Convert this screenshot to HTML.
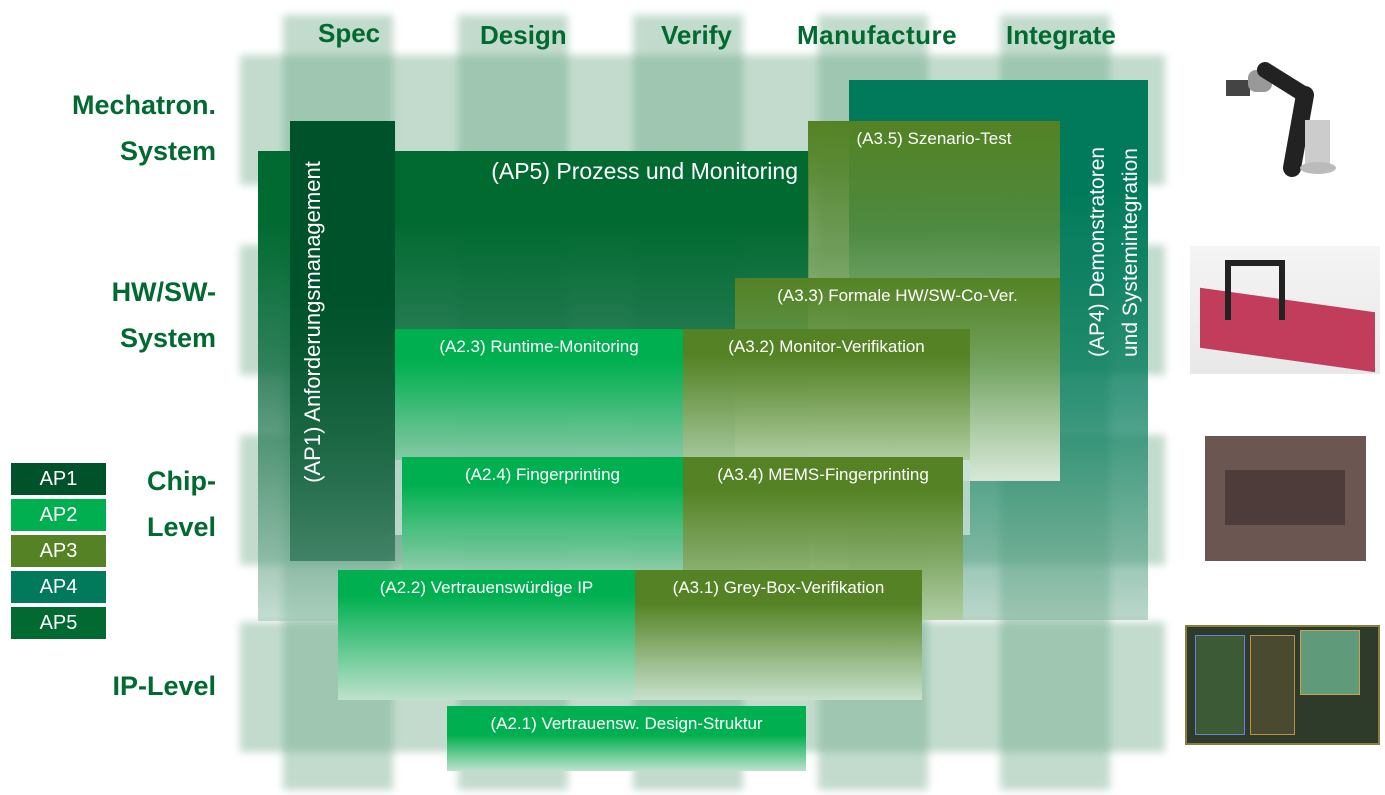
<!DOCTYPE html>
<html><head><meta charset="utf-8"><style>
*{margin:0;padding:0;box-sizing:border-box}
body{width:1385px;height:795px;background:#fff;position:relative;overflow:hidden;font-family:"Liberation Sans",sans-serif}
.a{position:absolute}
.grid{position:absolute;left:0;top:0;width:1385px;height:795px;filter:blur(4px)}
.c{position:absolute;background:rgba(110,170,135,0.42)}
.h{position:absolute;font-weight:bold;color:#006a30;font-size:26px}
.r{position:absolute;font-weight:bold;color:#006a30;font-size:27px;left:20px;width:196px;text-align:right;line-height:46px}
.b{position:absolute;color:#fff;font-size:17px;text-align:center;padding-top:8px}
.g2{background:linear-gradient(#00b050 0%,#00b050 25%,rgba(140,205,170,0.9) 100%)}
.g3{background:linear-gradient(#548224 0%,#548224 20%,rgba(175,205,160,0.9) 100%)}
.lg{position:absolute;left:11px;width:95px;height:32px;color:#fff;font-size:20px;text-align:center;line-height:32px}
</style></head><body>
<div class="grid">
<div class="c" style="left:283px;top:15px;width:110px;height:775px"></div>
<div class="c" style="left:458px;top:15px;width:110px;height:775px"></div>
<div class="c" style="left:633px;top:15px;width:110px;height:775px"></div>
<div class="c" style="left:818px;top:15px;width:110px;height:775px"></div>
<div class="c" style="left:1000px;top:15px;width:110px;height:775px"></div>
<div class="c" style="left:240px;top:55px;width:925px;height:130px"></div>
<div class="c" style="left:240px;top:245px;width:925px;height:130px"></div>
<div class="c" style="left:240px;top:435px;width:925px;height:130px"></div>
<div class="c" style="left:240px;top:622px;width:925px;height:130px"></div>
</div>
<div class="h" style="left:318px;top:18px">Spec</div>
<div class="h" style="left:480px;top:20px">Design</div>
<div class="h" style="left:661px;top:20px">Verify</div>
<div class="h" style="left:797px;top:20px;letter-spacing:0.5px">Manufacture</div>
<div class="h" style="left:1006px;top:20px">Integrate</div>
<div class="r" style="top:82px">Mechatron.<br>System</div>
<div class="r" style="top:269px">HW/SW-<br>System</div>
<div class="r" style="top:458px">Chip-<br>Level</div>
<div class="r" style="top:663px">IP-Level</div>

<div class="a" style="left:849px;top:80px;width:299px;height:540px;background:linear-gradient(#007a5a 0%,#007a5a 20%,rgba(0,122,90,0.75) 60%,rgba(120,175,150,0.5) 100%)"></div>
<div class="a" style="left:258px;top:151px;width:551px;height:470px;background:linear-gradient(#006a30 0%,#006a30 15%,rgba(20,110,70,0.8) 50%,rgba(150,195,175,0.55) 100%)"></div>
<div class="a" style="left:290px;top:121px;width:105px;height:440px;background:linear-gradient(#00522a 0%,#00522a 40%,rgba(40,110,80,0.7) 100%)"></div>
<div class="a" style="left:93px;top:307px;width:440px;height:30px;transform:rotate(-90deg);color:#fff;font-size:22px;text-align:center;white-space:nowrap;line-height:30px">(AP1) Anforderungsmanagement</div>
<div class="a" style="left:400px;top:158px;width:398px;color:#fff;font-size:23px;text-align:right">(AP5) Prozess und Monitoring</div>
<div class="a" style="left:973px;top:185px;width:280px;height:64px;transform:rotate(-90deg);color:#fff;font-size:21px;text-align:left;line-height:33px;white-space:nowrap">(AP4) Demonstratoren<br>und Systemintegration</div>

<div class="b g3" style="left:808px;top:121px;width:252px;height:360px;background:linear-gradient(#548224 0%,rgba(90,140,60,0.85) 30%,rgba(215,232,215,0.95) 100%)">(A3.5) Szenario-Test</div>
<div class="b g3" style="left:735px;top:278px;width:325px;height:202px;background:linear-gradient(#548224 0%,rgba(110,160,90,0.8) 45%,rgba(215,232,215,0.95) 100%)">(A3.3) Formale HW/SW-Co-Ver.</div>
<div class="b g2" style="left:395px;top:329px;width:288px;height:131px">(A2.3) Runtime-Monitoring</div>
<div class="b g3" style="left:683px;top:329px;width:287px;height:131px">(A3.2) Monitor-Verifikation</div>
<div class="a" style="left:395px;top:460px;width:575px;height:75px;background:rgba(200,225,215,0.8)"></div>
<div class="b g2" style="left:402px;top:457px;width:281px;height:113px">(A2.4) Fingerprinting</div>
<div class="b g3" style="left:683px;top:457px;width:280px;height:163px">(A3.4) MEMS-Fingerprinting</div>
<div class="b g2" style="left:338px;top:570px;width:297px;height:130px;background:linear-gradient(#00b050 0%,#00b050 20%,rgba(190,225,205,1) 100%)">(A2.2) Vertrauenswürdige IP</div>
<div class="b g3" style="left:635px;top:570px;width:287px;height:130px;background:linear-gradient(#548224 0%,#548224 25%,rgba(200,225,205,1) 100%)">(A3.1) Grey-Box-Verifikation</div>
<div class="b" style="left:447px;top:706px;width:359px;height:65px;background:linear-gradient(#00b050 0%,#00b050 45%,rgba(190,225,205,1) 100%)">(A2.1) Vertrauensw. Design-Struktur</div>

<div class="lg" style="top:463px;background:#00522a">AP1</div>
<div class="lg" style="top:499px;background:#00b050">AP2</div>
<div class="lg" style="top:535px;background:#548224">AP3</div>
<div class="lg" style="top:571px;background:#007a5a">AP4</div>
<div class="lg" style="top:607px;background:#006a30">AP5</div>

<svg class="a" style="left:1220px;top:40px" width="120" height="140">
<rect x="6" y="40" width="24" height="16" fill="#444"/>
<rect x="28" y="30" width="24" height="22" rx="8" fill="#999"/>
<line x1="45" y1="30" x2="85" y2="55" stroke="#222" stroke-width="16" stroke-linecap="round"/>
<line x1="85" y1="55" x2="72" y2="128" stroke="#222" stroke-width="18" stroke-linecap="round"/>
<rect x="85" y="80" width="25" height="45" fill="#ccc"/>
<ellipse cx="98" cy="128" rx="18" ry="6" fill="#bbb"/>
</svg>
<div class="a" style="left:1190px;top:246px;width:190px;height:128px;background:linear-gradient(#f4f4f4,#e8e8e8)"></div>
<div class="a" style="left:1200px;top:300px;width:175px;height:60px;background:#c23d5c;transform:skewY(8deg)"></div>
<div class="a" style="left:1225px;top:260px;width:60px;height:60px;border:6px solid #222;border-bottom:none"></div>
<div class="a" style="left:1205px;top:436px;width:161px;height:125px;background:#6b5652"></div>
<div class="a" style="left:1225px;top:470px;width:120px;height:55px;background:#4e3c3a"></div>
<div class="a" style="left:1185px;top:625px;width:195px;height:120px;background:#2e3b2a;border:2px solid #8a7f3a"></div>
<div class="a" style="left:1195px;top:635px;width:50px;height:100px;background:#3d5a36;border:1px solid #6a7fe0"></div>
<div class="a" style="left:1300px;top:630px;width:60px;height:65px;background:#5f9a7a;border:1px solid #d0a050"></div>
<div class="a" style="left:1250px;top:635px;width:45px;height:100px;background:#4a4a30;border:1px solid #c09040"></div>
</body></html>
